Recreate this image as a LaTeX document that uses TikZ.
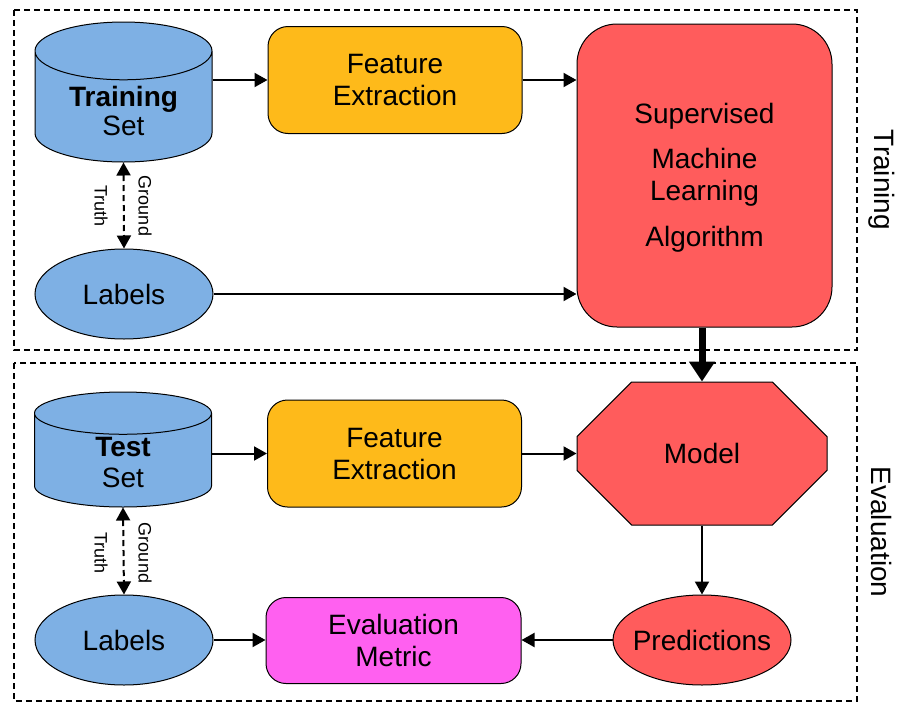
\documentclass[tikz,border=0pt]{standalone}
\usepackage{fontspec}
\setmainfont{Liberation Sans}
\usetikzlibrary{shapes.geometric,shapes.misc,arrows.meta,positioning}
\definecolor{dbblue}{RGB}{126,176,228}
\definecolor{feorange}{RGB}{254,186,26}
\definecolor{mlred}{RGB}{255,92,92}
\definecolor{evpink}{RGB}{255,96,240}
\tikzset{every node/.style={font=\fontsize{28}{32}\selectfont},
dataset/.style={cylinder, shape border rotate=90, aspect=0.5, draw, line width=1pt,
  fill=dbblue, minimum width=177pt, minimum height=140pt, align=center, anchor=shape center},
block/.style={draw, line width=1pt, rounded corners=20pt, minimum width=254pt,
  minimum height=107pt, align=center},
blob/.style={ellipse, draw, line width=1pt, inner sep=0pt, minimum width=178pt, minimum height=90pt},
frame/.style={line width=2pt, dash pattern=on 6pt off 4pt},
arr/.style={line width=2pt, -{Triangle[length=13pt,width=14pt]}},
gt/.style={line width=2pt, dash pattern=on 6pt off 4pt,
  {Triangle[length=13pt,width=14pt]}-{Triangle[length=13pt,width=14pt]}},
gtlabel/.style={rotate=-90, font=\fontsize{18}{20}\selectfont}
}
\begin{document}
\begin{tikzpicture}[x=1pt, y=-1pt]
        \useasboundingbox (0,0) rectangle (898,702);
        % training part
        \draw[frame] (14,10) rectangle (857,350);
        \node[dataset]                (trainset) at (123.5,92)  {\textbf{Training}\\[-3pt]Set};
        \node[block, fill=feorange]   (fe1)      at (395,80)    {Feature\\Extraction};
        \node[draw, line width=1pt, rounded corners=40pt, fill=mlred, align=center,
              minimum width=255pt, minimum height=303pt]
                                      (sml)      at (704.5,175.5)
              {\\[-8pt]Supervised\\[13pt]Machine\\Learning\\[14pt]Algorithm};
        \node[blob, fill=dbblue]      (labels1)  at (124,294)   {\makebox[0pt]{Labels}};
        \node[rotate=-90]             (traintxt) at (882,180)   {Training};
        \node[gtlabel]                (ground1)  at (145,206)   {Ground};
        \node[gtlabel]                (truth1)   at (101,206)   {Truth};

        % evaluation part
        \draw[frame] (14,363) rectangle (857,701);
        \node[dataset, minimum height=115pt, aspect=0.68]
                                      (testset)  at (123,449.5) {\\[-14pt]\textbf{Test}\\[-1pt]Set};
        \node[block, fill=feorange]   (fe2)      at (394.5,453.5) {Feature\\Extraction};
        \node[chamfered rectangle, chamfered rectangle xsep=41pt, chamfered rectangle ysep=41pt,
              draw, line width=1pt, fill=mlred, minimum width=250pt, minimum height=143pt]
                                      (model)    at (702,453.5) {Model};
        \node[blob, fill=dbblue]      (labels2)  at (124,640)   {\makebox[0pt]{Labels}};
        \node[block, fill=evpink, minimum width=255pt, minimum height=86pt]
                                      (metric)   at (393.5,640.5) {Evaluation\\Metric};
        \node[blob, fill=mlred]       (preds)    at (702,640)   {\makebox[0pt]{Predictions}};
        \node[rotate=-90]             (evaltxt)  at (882,532)   {Evaluation};
        \node[gtlabel]                (ground2)  at (145,553)   {Ground};
        \node[gtlabel]                (truth2)   at (101,553)   {Truth};

        % connectors
        \draw[arr] (trainset.east |- fe1.west) -- (fe1.west);
        \draw[arr] (fe1.east) -- (fe1.east -| sml.west);
        \draw[arr] (labels1.east) -- (labels1.east -| sml.west);
        \draw[gt]  (trainset.south) -- (labels1.north);
        \draw[line width=7pt, -{Triangle[length=20pt,width=25pt]}] (sml.south -| model.north) -- (model.north);
        \draw[arr] (testset.east |- fe2.west) -- (fe2.west);
        \draw[arr] (fe2.east) -- (model.west);
        \draw[arr] (model.south) -- (preds.north);
        \draw[arr] (preds.west) -- (preds.west -| metric.east);
        \draw[arr] (labels2.east) -- (labels2.east -| metric.west);
        \draw[gt]  (testset.south) -- (labels2.north);
\end{tikzpicture}
\end{document}
